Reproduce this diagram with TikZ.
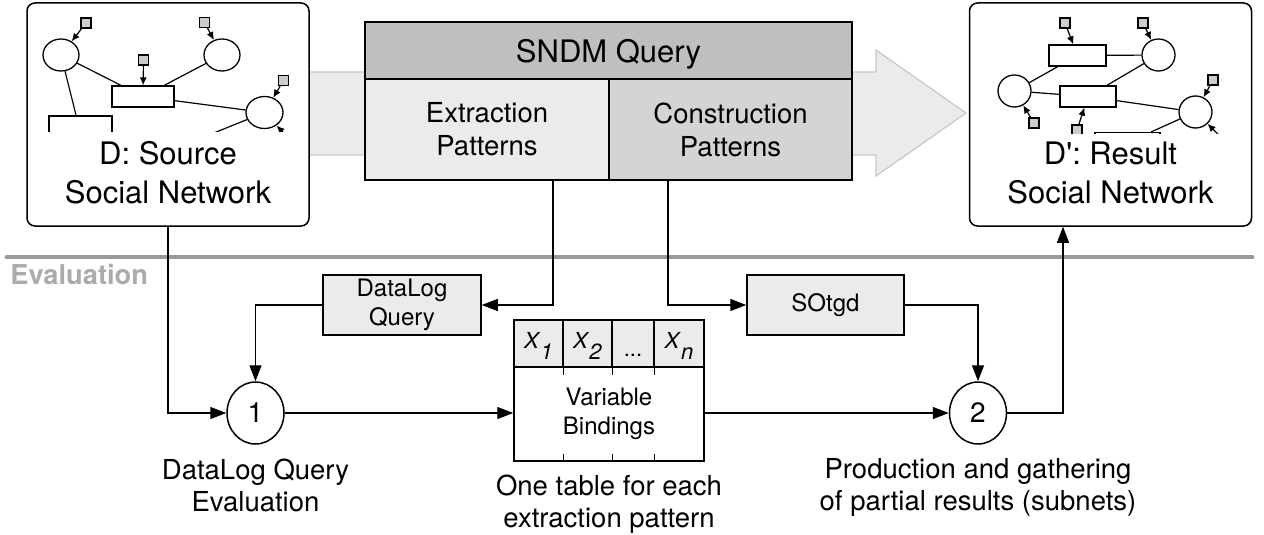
\documentclass[tikz,border=0pt]{standalone}
\usepackage{fontspec}
\setmainfont{TeX Gyre Heros}
\usetikzlibrary{calc,arrows.meta,shapes.geometric}
\newcommand{\varx}[1]{\textit{X}\raisebox{-5.5pt}{\textit{#1}}}

\begin{document}
\begin{tikzpicture}[x=0.5pt,y=-0.5pt,
    netbox/.style={draw,line width=0.75pt,rounded corners=4pt,fill=white,minimum width=141pt,minimum height=111.5pt},
    tabcell/.style={draw,line width=0.75pt,inner sep=0pt,align=center},
    evalcircle/.style={ellipse,draw,line width=0.75pt,fill=white,inner sep=0pt,minimum width=28.5pt,minimum height=31pt,font=\fontsize{14pt}{16pt}\selectfont},
    flow/.style={line width=0.65pt,-{Triangle[length=8pt,width=6pt]}},
    tickmark/.style={line width=0.6pt},
    bigtext/.style={font=\fontsize{15.5pt}{19.5pt}\selectfont,align=center,inner sep=0pt},
    midtext/.style={font=\fontsize{13.75pt}{16.5pt}\selectfont},
    smalltext/.style={font=\fontsize{12pt}{14.5pt}\selectfont},
    captext/.style={font=\fontsize{13.75pt}{16pt}\selectfont,align=center,inner sep=0pt},
    sketchent/.style={ellipse,draw,line width=0.65pt,fill=white,inner sep=0pt,minimum width=18pt,minimum height=16pt},
    sketchrel/.style={rectangle,draw,line width=0.65pt,fill=white,inner sep=0pt,minimum width=31pt,minimum height=10.5pt},
    sketchatt/.style={rectangle,draw,line width=0.55pt,fill=black!20,inner sep=0pt,minimum size=5pt},
    sketchline/.style={line width=0.6pt},
    sketcharr/.style={line width=0.6pt,-{Latex[length=4pt,width=3.6pt]}}]
  \useasboundingbox (0,0) rectangle (1264,535);

  \draw[fill=black!8,draw=black!22,line width=0.6pt] (300,72) -- (876,72) -- (876,50) -- (966,113) -- (876,176) -- (876,155) -- (300,155) -- cycle;

  \node[netbox] (src) at (168,114.5) {};
  \node[netbox] (dst) at (1110.5,114.5) {};
  \node[bigtext] (srclab) at (168,172.5) {D: Source\\Social Network};
  \node[bigtext] (dstlab) at (1110.5,172.5) {D\textquotesingle: Result\\Social Network};

  \begin{scope}
    \clip (27,3) rectangle (309,132);
    \node[sketchent] (la) at (61,55) {};
    \node[sketchent] (lb) at (222,55) {};
    \node[sketchent,minimum width=18.5pt] (lc) at (264.5,112.5) {};
    \node[sketchrel] (lr) at (143,96.5) {};
    \node[sketchrel,minimum width=31.5pt,minimum height=17pt] (ld) at (80.5,133) {};
    \node[sketchatt] (lsa) at (86,23) {};
    \node[sketchatt] (lsb) at (204.5,22.5) {};
    \node[sketchatt] (lsr) at (143.5,60) {};
    \node[sketchatt] (lsc) at (283.5,80.5) {};
    \coordinate (le) at (194,141);
    \coordinate (lf) at (292,142);
    \draw[sketchline] (la) -- (lr) (lb) -- (lr) (lr) -- (lc) (la) -- (ld) (lc) -- (le);
    \draw[sketcharr] (lsa) -- (la);
    \draw[sketcharr] (lsb) -- (lb);
    \draw[sketcharr] (lsr) -- (lr);
    \draw[sketcharr] (lsc) -- (lc);
    \draw[sketcharr] (lf) -- (lc);
  \end{scope}

  \begin{scope}
    \clip (969,3) rectangle (1252,134);
    \node[sketchent,minimum width=16.5pt] (rp) at (1158.5,55) {};
    \node[sketchent,minimum width=16.5pt] (rq) at (1014.5,91) {};
    \node[sketchent,minimum width=16.5pt] (rs) at (1195.5,112) {};
    \node[sketchrel,minimum width=28.5pt] (ra) at (1077.5,55.5) {};
    \node[sketchrel,minimum width=28pt] (rb) at (1088,96.5) {};
    \node[sketchrel,minimum width=32.5pt,minimum height=10pt] (rc) at (1127.5,142.5) {};
    \node[sketchatt] (rsa) at (1065,23) {};
    \node[sketchatt] (rsp) at (1143,23) {};
    \node[sketchatt] (rss) at (1213,80) {};
    \node[sketchatt] (rsq) at (1034,123) {};
    \node[sketchatt] (rsb) at (1077,130) {};
    \coordinate (rg) at (1226,142);
    \draw[sketchline] (ra) -- (rp) (rq) -- (ra) (rq) -- (rb) (rb) -- (rp) (rb) -- (rs) (rs) -- (rc);
    \draw[sketcharr] (rsa) -- (ra);
    \draw[sketcharr] (rsp) -- (rp);
    \draw[sketcharr] (rss) -- (rs);
    \draw[sketcharr] (rsq) -- (rq);
    \draw[sketcharr] (rsb) -- (rb);
    \draw[sketcharr] (rg) -- (rs);
  \end{scope}

  \node[tabcell,fill=black!25,minimum width=243.5pt,minimum height=28.5pt,font=\fontsize{15.5pt}{19.5pt}\selectfont,text depth=0pt] (sndm) at (608.5,50.5) {SNDM Query};
  \node[tabcell,midtext,fill=black!8,minimum width=122pt,minimum height=50.5pt] (ext) at (487,129.5) {Extraction\\Patterns};
  \node[tabcell,midtext,fill=black!17,minimum width=121.5pt,minimum height=50.5pt] (con) at (730.5,129.5) {Construction\\Patterns};

  \coordinate (evl) at (7,257);
  \coordinate (evr) at (1252,257);
  \draw[black!40,line width=2.35pt,line cap=round] (evl) -- (evr);
  \node[font=\fontsize{13.65pt}{16pt}\selectfont\bfseries,text=black!33,anchor=base west,inner sep=0pt] (evlab) at (10,284) {Evaluation};

  \node[tabcell,smalltext,fill=black!8,minimum width=79pt,minimum height=30pt] (dlq) at (402,305) {DataLog\\Query};
  \node[tabcell,smalltext,fill=black!8,minimum width=78.5pt,minimum height=30pt] (sot) at (825.5,305) {SOtgd};

  \node[evalcircle] (c1) at (255.5,413) {1};
  \node[evalcircle] (c2) at (978,413) {2};

  \node[tabcell,fill=black!8,minimum width=24.5pt,minimum height=23.5pt,font=\fontsize{11pt}{13pt}\selectfont,text height=10pt,text depth=5.5pt] (x1) at (538.5,343.5) {\varx{1}};
  \node[tabcell,fill=black!8,minimum width=24.5pt,minimum height=23.5pt,font=\fontsize{11pt}{13pt}\selectfont,text height=10pt,text depth=5.5pt] (x2) at (587.5,343.5) {\varx{2}};
  \node[tabcell,fill=black!8,minimum width=21pt,minimum height=23.5pt,font=\fontsize{11pt}{13pt}\selectfont,text height=10pt,text depth=5.5pt] (xd) at (633,343.5) {\raisebox{-4pt}{...}};
  \node[tabcell,fill=black!8,minimum width=25pt,minimum height=23.5pt,font=\fontsize{11pt}{13pt}\selectfont,text height=10pt,text depth=5.5pt] (xn) at (679,343.5) {\varx{n}};
  \node[tabcell,smalltext,minimum width=95pt,minimum height=47pt] (bind) at (609,414) {Variable\\Bindings};
  \foreach \c in {x1,x2,xd} {
    \draw[tickmark] (\c.south east) -- ++(0,7);
    \draw[tickmark] (\c.south east |- bind.south) -- ++(0,-8);
  }

  \node[captext] (c1lab) at (255.5,485) {DataLog Query\\Evaluation};
  \node[captext] (bindlab) at (609,504) {One table for each\\extraction pattern};
  \node[captext] (c2lab) at (978,487.5) {Production and gathering\\of partial results (subnets)};

  \draw[flow] (src.south) |- (c1.west);
  \draw[flow] ([xshift=33pt]ext.south) |- (dlq.east);
  \draw[flow] ([xshift=-31.25pt]con.south) |- (sot.west);
  \draw[flow] (dlq.west) -| (c1.north);
  \draw[flow] (sot.east) -| (c2.north);
  \draw[flow] (c1.east) -- (c1.east -| bind.west);
  \draw[flow] (bind.east |- c2.west) -- (c2.west);
  \draw[flow] (c2.east) -| ([xshift=-23.75pt]dst.south);
\end{tikzpicture}
\end{document}
